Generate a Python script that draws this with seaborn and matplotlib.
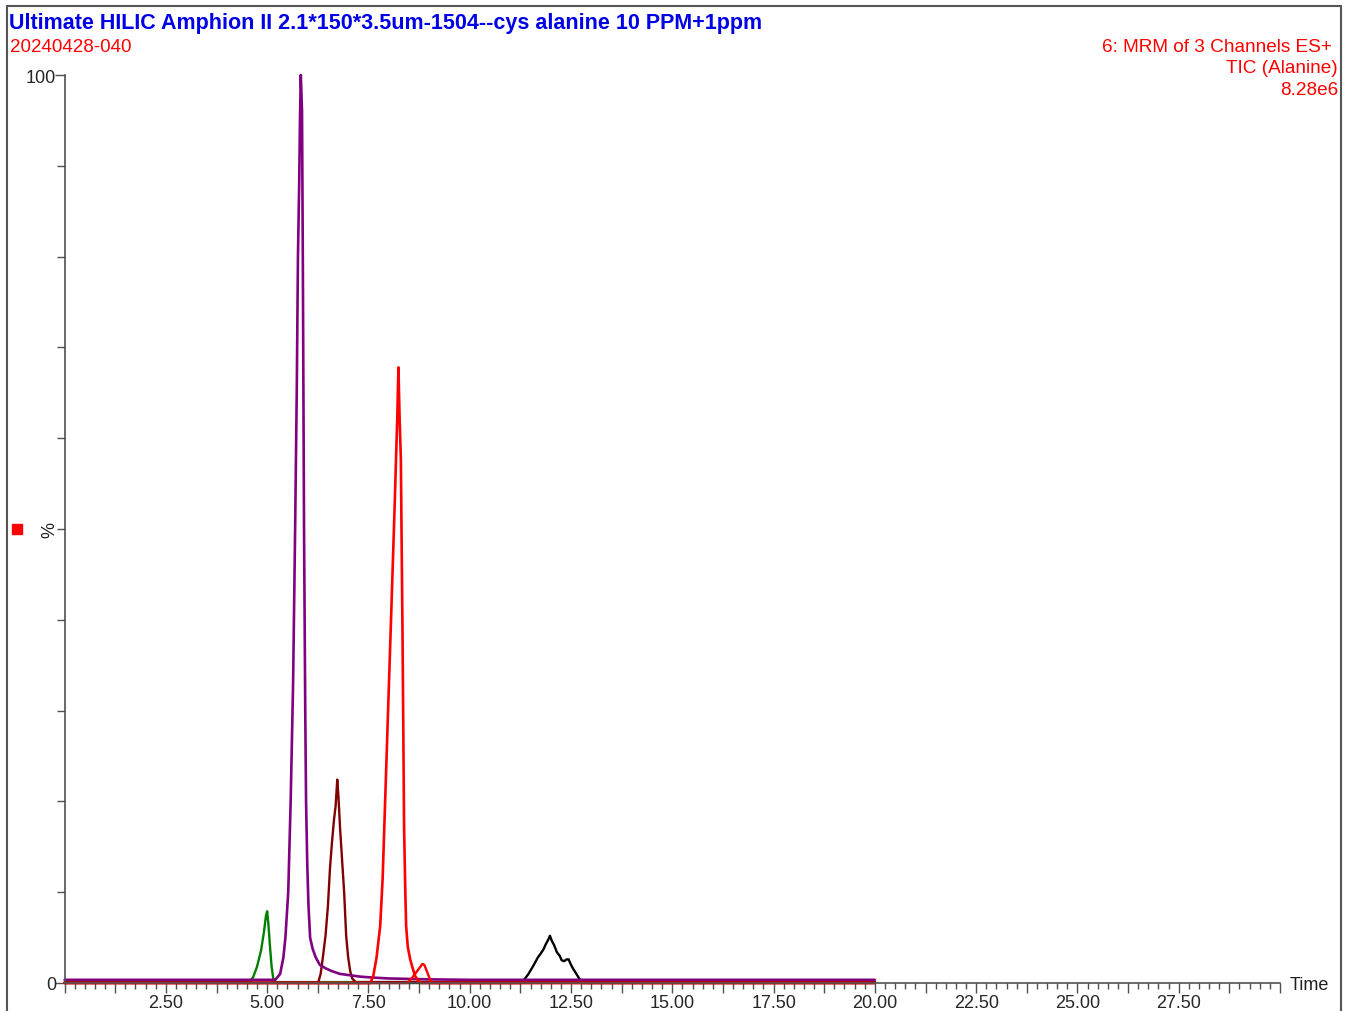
import matplotlib
matplotlib.use("Agg")
import matplotlib.pyplot as plt
import seaborn as sns
import pandas as pd
from matplotlib.patches import Rectangle
from matplotlib.ticker import MultipleLocator, FuncFormatter, FixedLocator

# ---------------- data ----------------
title_text = "Ultimate HILIC Amphion II 2.1*150*3.5um-1504--cys alanine 10 PPM+1ppm"
sample_text = "20240428-040"
info_lines = ["6: MRM of 3 Channels ES+", "TIC (Alanine)", "8.28e6"]

green_t = [0, 4.55, 4.65, 4.75, 4.85, 4.92, 4.97, 5.00, 5.03, 5.07, 5.11, 5.15, 5.20, 20]
green_y = [0.1, 0.1, 0.6, 1.8, 3.6, 5.6, 7.4, 7.9, 6.5, 4.0, 1.8, 0.5, 0.1, 0.1]

purple_t = [0, 5.20, 5.32, 5.40, 5.45, 5.52, 5.58, 5.64, 5.69, 5.73, 5.76, 5.79, 5.81, 5.83,
            5.86, 5.88, 5.91, 5.94, 5.96, 5.99, 6.02, 6.06, 6.12, 6.20, 6.30, 6.45, 6.60, 6.80,
            7.05, 7.30, 7.60, 8.00, 8.50, 9.00, 10.0, 20.0]
purple_y = [0.35, 0.35, 1.0, 2.8, 5.0, 10.0, 20.0, 33.0, 50.0, 65.0, 80.0, 88.0, 95.0, 100.0,
            96.0, 80.0, 50.0, 30.0, 20.0, 13.0, 8.5, 5.0, 3.8, 2.8, 2.0, 1.6, 1.3, 1.0,
            0.85, 0.7, 0.6, 0.5, 0.45, 0.4, 0.35, 0.35]

brown_t = [0, 6.26, 6.32, 6.38, 6.44, 6.50, 6.55, 6.60, 6.65, 6.69, 6.73, 6.76, 6.80, 6.85,
           6.90, 6.95, 7.00, 7.05, 7.10, 7.18, 20]
brown_y = [0.05, 0.05, 1.0, 3.0, 5.2, 8.5, 12.6, 15.5, 18.0, 19.5, 22.4, 20.5, 17.0, 13.5,
           10.0, 5.2, 2.8, 1.3, 0.5, 0.1, 0.1]

red_t = [0, 7.55, 7.62, 7.70, 7.79, 7.85, 7.89, 7.93, 7.97, 8.01, 8.05, 8.10, 8.15, 8.18,
         8.21, 8.24, 8.27, 8.30, 8.32, 8.34, 8.36, 8.38, 8.41, 8.43, 8.47, 8.53, 8.60, 8.65,
         8.72, 8.80, 20]
red_y = [0, 0, 0.8, 2.8, 6.3, 11.5, 17, 22.5, 28, 33.5, 39, 46, 53, 57.7,
         62, 67.8, 62, 57.7, 48, 39, 28, 17, 10, 6.3, 4.0, 2.6, 1.5, 0.8,
         0.3, 0.0, 0.0]

red2_t = [0, 8.45, 8.55, 8.65, 8.75, 8.83, 8.88, 8.95, 9.02, 9.08, 20]
red2_y = [0, 0.0, 0.4, 1.0, 1.6, 2.1, 2.0, 1.2, 0.4, 0.0, 0]

black_t = [0, 11.25, 11.35, 11.45, 11.57, 11.68, 11.76, 11.82, 11.88, 11.93, 11.98, 12.03,
           12.08, 12.15, 12.22, 12.27, 12.33, 12.39, 12.44, 12.50, 12.56, 12.62, 12.70, 12.80, 20]
black_y = [0, 0, 0.4, 1.0, 1.9, 2.8, 3.3, 3.7, 4.3, 4.7, 5.2, 4.6,
           4.2, 3.4, 3.0, 2.5, 2.4, 2.6, 2.6, 2.0, 1.5, 1.1, 0.5, 0.0, 0.0]

x_label_ticks = [2.5, 5.0, 7.5, 10.0, 12.5, 15.0, 17.5, 20.0, 22.5, 25.0, 27.5]
y_label_ticks = [0, 100]

# ---------------- style ----------------
sns.set_style("white")
plt.rcParams["font.family"] = ["Liberation Sans", "DejaVu Sans"]

W, H = 1348, 1012
fig = plt.figure(figsize=(W / 100, H / 100), dpi=100)
ax = fig.add_axes([64.6 / W, 1 - 984 / H, (1280 - 64.6) / W, (984 - 76) / H])

traces = [
    (black_t, black_y, "black"),
    (green_t, green_y, "#008000"),
    (brown_t, brown_y, "#800000"),
    (purple_t, purple_y, "#800080"),
    (red_t, red_y, "#ff0000"),
    (red2_t, red2_y, "#ff0000"),
]
for t, y, c in traces:
    df = pd.DataFrame({"t": t, "y": y})
    sns.lineplot(data=df, x="t", y="y", color=c, linewidth=1.7, estimator=None,
                 sort=False, ax=ax)

for ln in ax.lines:
    ln.set_clip_on(False)
ax.lines[3].set_linewidth(1.9)
ax.lines[4].set_linewidth(1.9)

ax.set_xlim(0, 30)
ax.set_ylim(0, 100)
ax.set_xlabel("")
ax.set_ylabel("")

for s in ["top", "right"]:
    ax.spines[s].set_visible(False)
for s in ["left", "bottom"]:
    ax.spines[s].set_color("#505050")
    ax.spines[s].set_linewidth(1.2)

ax.xaxis.set_major_locator(MultipleLocator(1.25))
ax.xaxis.set_minor_locator(MultipleLocator(0.25))


def xfmt(v, pos):
    for lv in x_label_ticks:
        if abs(v - lv) < 1e-6:
            return f"{v:.2f}"
    return ""


ax.xaxis.set_major_formatter(FuncFormatter(xfmt))
ax.yaxis.set_major_locator(FixedLocator(y_label_ticks))
ax.yaxis.set_minor_locator(MultipleLocator(10))
ax.yaxis.set_major_formatter(FuncFormatter(lambda v, p: f"{int(v)}"))

ax.tick_params(axis="x", which="major", direction="out", length=7, width=1,
               color="#505050", labelsize=13, pad=1, bottom=True)
ax.tick_params(axis="x", which="minor", direction="out", length=4, width=1,
               color="#505050", bottom=True)
ax.tick_params(axis="y", which="major", direction="out", length=7, width=1,
               color="#505050", labelsize=13, pad=-1, left=True)
ax.tick_params(axis="y", which="minor", direction="out", length=6, width=1,
               color="#505050", left=True)

ax.text(1.008, -0.002, "Time", transform=ax.transAxes, ha="left", va="center",
        fontsize=13, color="#202020")
ax.text(-0.0054, 0.5, "%", transform=ax.transAxes, ha="right", va="center",
        rotation=90, fontsize=13, color="#202020")

# header texts
fig.text(9 / W, 1 - 23 / H, title_text, ha="left", va="center", fontsize=15.5,
         fontweight="bold", color="#0000e6")
fig.text(10 / W, 1 - 47.5 / H, sample_text, ha="left", va="center", fontsize=13.5,
         color="#ff0000")
fig.text(1332 / W, 1 - 48 / H, info_lines[0], ha="right", va="center", fontsize=13.7,
         color="#ff0000")
fig.text(1338 / W, 1 - 69 / H, info_lines[1], ha="right", va="center", fontsize=13.7,
         color="#ff0000")
fig.text(1338 / W, 1 - 90.5 / H, info_lines[2], ha="right", va="center", fontsize=13.7,
         color="#ff0000")

# red marker square and outer frame
fig.patches.append(Rectangle((12 / W, 1 - 535 / H), 10 / W, 10 / H,
                             transform=fig.transFigure, color="#ff0000", zorder=5))
fig.patches.append(Rectangle((7 / W, -0.01), (1341 - 7) / W, 1 - 7 / H + 0.01,
                             transform=fig.transFigure, fill=False,
                             edgecolor="#555555", linewidth=1.5, zorder=5))

fig.savefig("out.png", dpi=100)
